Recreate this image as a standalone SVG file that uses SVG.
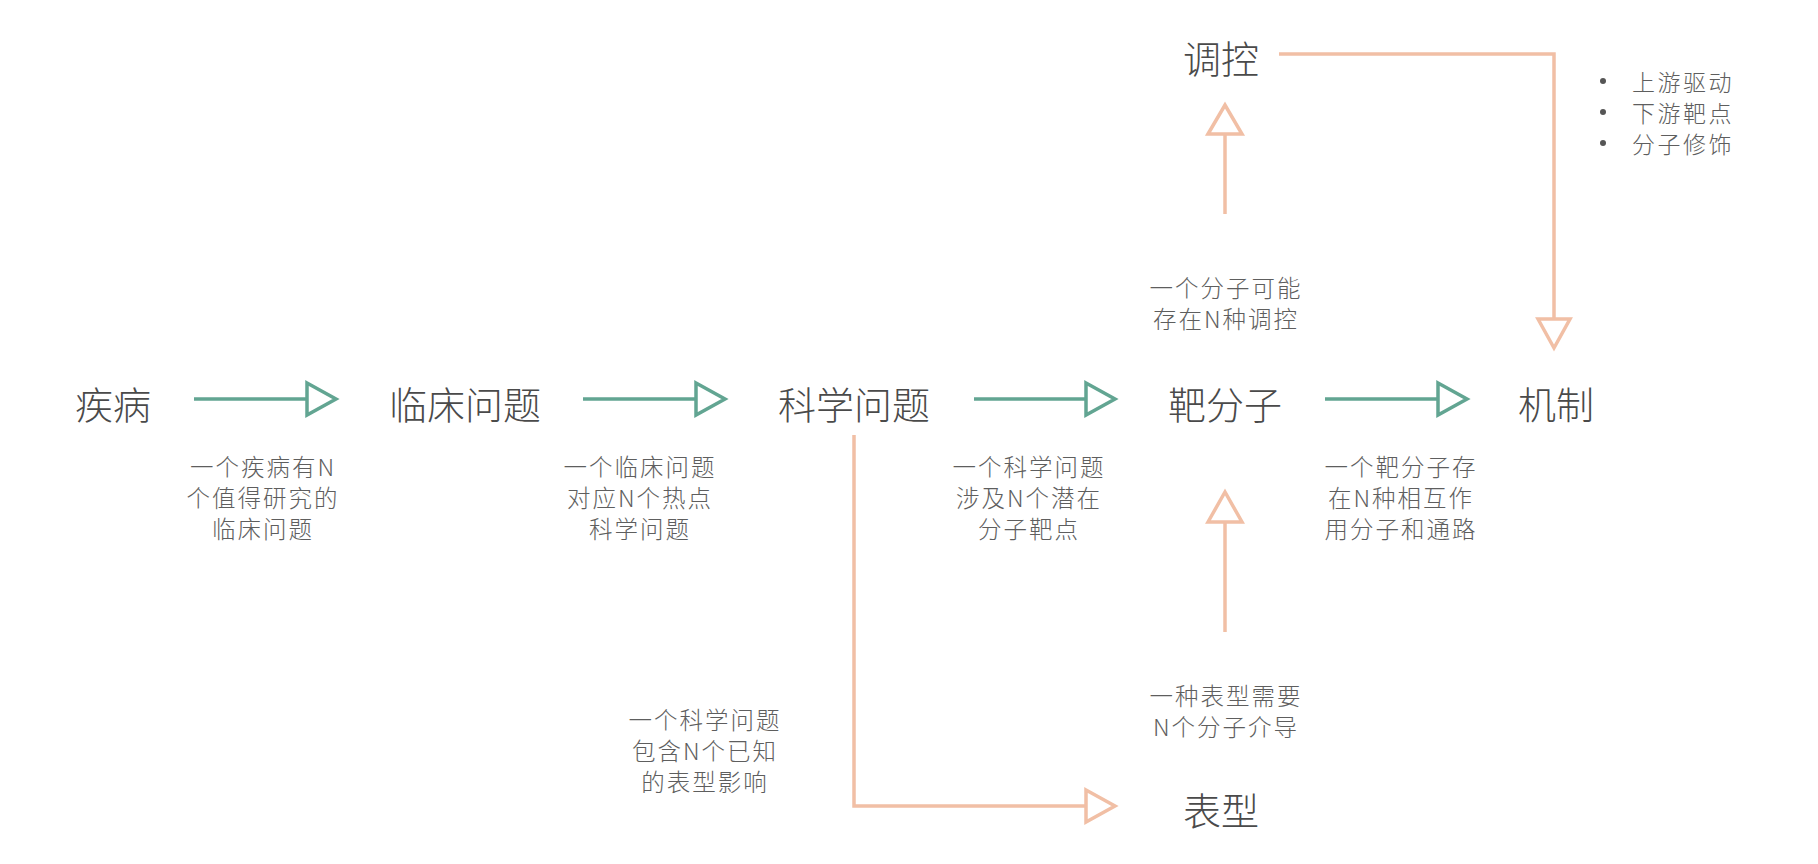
<svg xmlns="http://www.w3.org/2000/svg" width="1818" height="864" viewBox="0 0 1818 864">
<style>
text{font-family:"Noto Sans CJK SC","Noto Sans",sans-serif;font-weight:300;text-anchor:middle;dominant-baseline:central}
.node{font-size:38px;fill:#4a4a4a}
.lbl{font-size:23.5px;letter-spacing:2px;fill:#5e5e5e}
.bul{font-size:23px;letter-spacing:2.5px;fill:#5e5e5e;text-anchor:start}
.teal{stroke:#62a592;stroke-width:3.5;fill:none}
.org{stroke:#f1bfa5;stroke-width:3.5;fill:none}
.headT{stroke:#62a592;stroke-width:3.5;fill:#fff;stroke-linejoin:miter}
.headO{stroke:#f1bfa5;stroke-width:3.5;fill:#fff;stroke-linejoin:miter}
</style>
<rect width="1818" height="864" fill="#fff"/>
<g id="connectors">
<g id="c1"><line class="teal" x1="194" y1="399" x2="307" y2="399"/><polygon class="headT" points="307,383 336,399 307,415"/></g>
<g id="c2"><line class="teal" x1="583" y1="399" x2="696" y2="399"/><polygon class="headT" points="696,383 725,399 696,415"/></g>
<g id="c3"><line class="teal" x1="974" y1="399" x2="1086" y2="399"/><polygon class="headT" points="1086,383 1115,399 1086,415"/></g>
<g id="c4"><line class="teal" x1="1325" y1="399" x2="1438" y2="399"/><polygon class="headT" points="1438,383 1467,399 1438,415"/></g>
<g id="c5"><polyline class="org" points="1279,54 1554,54 1554,319"/><polygon class="headO" points="1538,319 1554,348 1570,319"/></g>
<g id="c6"><line class="org" x1="1225" y1="214" x2="1225" y2="134"/><polygon class="headO" points="1208,134 1225,105 1242,134"/></g>
<g id="c7"><line class="org" x1="1225" y1="632" x2="1225" y2="522"/><polygon class="headO" points="1208,522 1225,492 1242,522"/></g>
<g id="c8"><polyline class="org" points="854,435 854,806 1086,806"/><polygon class="headO" points="1086,790 1115,806 1086,822"/></g>
</g>
<g id="n-jibing"><text class="node" x="113" y="402">疾病</text></g>
<g id="n-linchuang"><text class="node" x="465" y="402">临床问题</text></g>
<g id="n-kexue"><text class="node" x="854" y="402">科学问题</text></g>
<g id="n-bafenzi"><text class="node" x="1225" y="402">靶分子</text></g>
<g id="n-jizhi"><text class="node" x="1556" y="402">机制</text></g>
<g id="n-tiaokong"><text class="node" x="1221" y="56">调控</text></g>
<g id="n-biaoxing"><text class="node" x="1221" y="808">表型</text></g>
<g id="l1"><text class="lbl" x="263" y="466">一个疾病有N</text><text class="lbl" x="263" y="497">个值得研究的</text><text class="lbl" x="263" y="528">临床问题</text></g>
<g id="l2"><text class="lbl" x="640" y="466">一个临床问题</text><text class="lbl" x="640" y="497">对应N个热点</text><text class="lbl" x="640" y="528">科学问题</text></g>
<g id="l3"><text class="lbl" x="1029" y="466">一个科学问题</text><text class="lbl" x="1029" y="497">涉及N个潜在</text><text class="lbl" x="1029" y="528">分子靶点</text></g>
<g id="l4"><text class="lbl" x="1401" y="466">一个靶分子存</text><text class="lbl" x="1401" y="497">在N种相互作</text><text class="lbl" x="1401" y="528">用分子和通路</text></g>
<g id="l5"><text class="lbl" x="1226" y="287">一个分子可能</text><text class="lbl" x="1226" y="318">存在N种调控</text></g>
<g id="l6"><text class="lbl" x="1226" y="695">一种表型需要</text><text class="lbl" x="1226" y="726">N个分子介导</text></g>
<g id="l7"><text class="lbl" x="705" y="719">一个科学问题</text><text class="lbl" x="705" y="750">包含N个已知</text><text class="lbl" x="705" y="781">的表型影响</text></g>
<g id="bullets">
<circle cx="1603" cy="81" r="3" fill="#555"/><text class="bul" x="1632" y="81">上游驱动</text>
<circle cx="1603" cy="112" r="3" fill="#555"/><text class="bul" x="1632" y="112">下游靶点</text>
<circle cx="1603" cy="143" r="3" fill="#555"/><text class="bul" x="1632" y="143">分子修饰</text>
</g>
</svg>
